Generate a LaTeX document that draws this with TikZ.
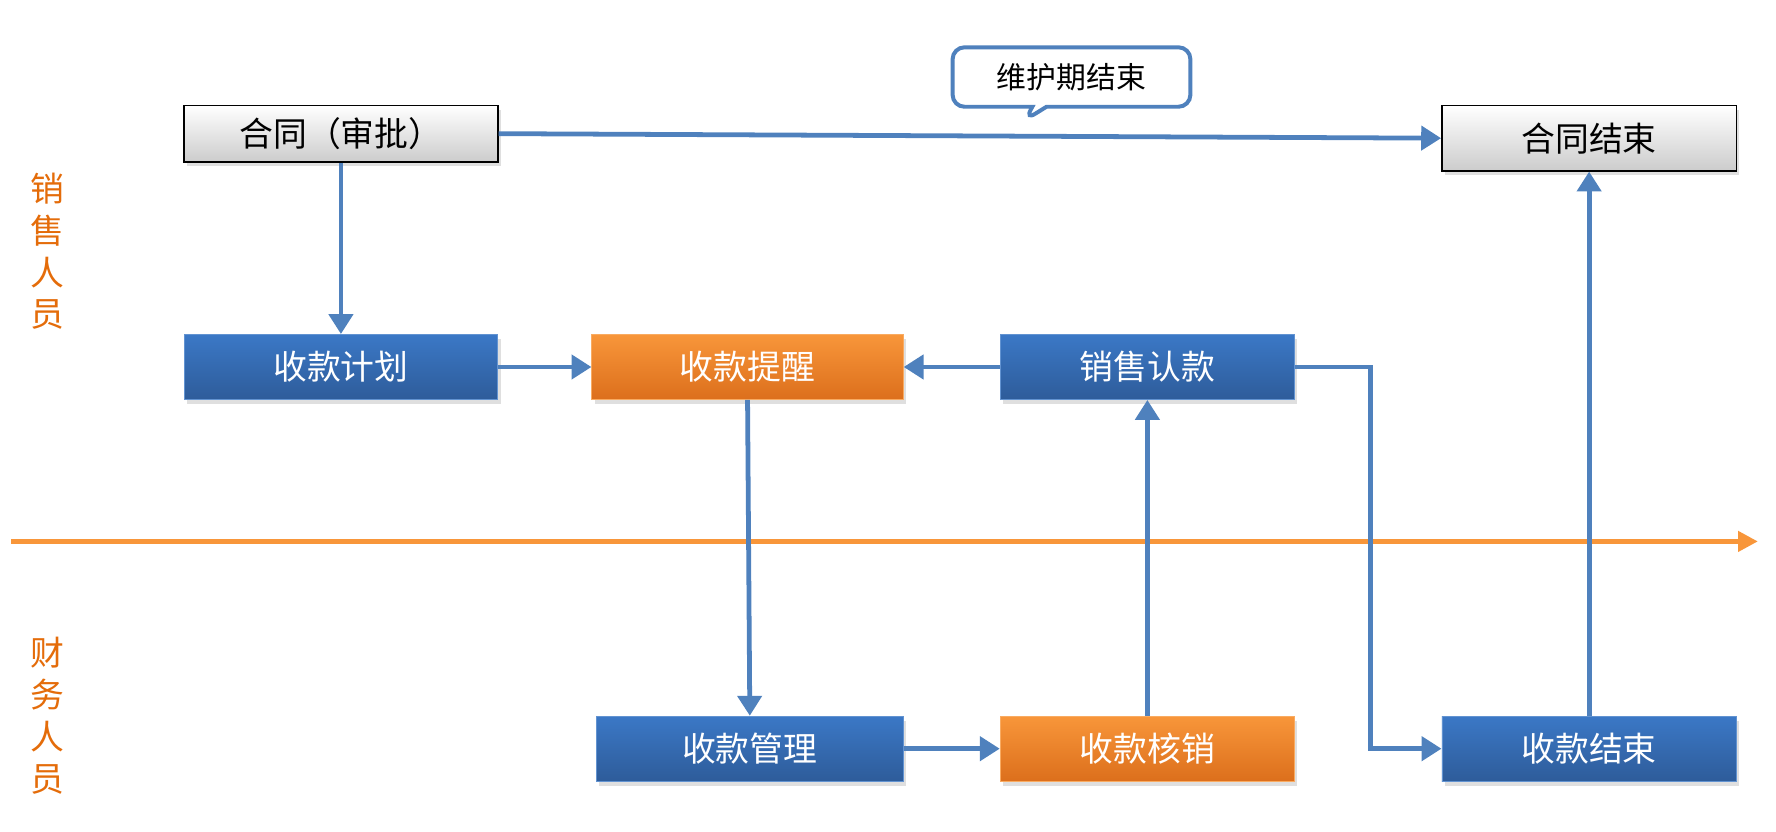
\documentclass[tikz,border=0pt]{standalone}
\usepackage{fontspec}
\setmainfont{Noto Sans CJK SC}
\usetikzlibrary{arrows.meta,shapes.callouts,shadows}
\definecolor{lineblue}{HTML}{4F81BD}
\definecolor{boxblue}{HTML}{3B78C6}
\definecolor{boxblued}{HTML}{2E5C9A}
\definecolor{boxor}{HTML}{F8963A}
\definecolor{boxord}{HTML}{DC6F1C}
\definecolor{laneor}{HTML}{E46C0A}
\tikzset{
  box/.style={minimum width=5.3cm, minimum height=1.15cm, inner sep=0pt,
    font=\fontsize{17}{17}\selectfont, drop shadow={opacity=0.25,shadow xshift=0.05cm,shadow yshift=-0.08cm}},
  bluebox/.style={box, draw=boxblue!80!white, top color=boxblue, bottom color=boxblued, text=white},
  orbox/.style={box, draw=boxor!80!white, top color=boxor, bottom color=boxord, text=white},
  greybox/.style={box, draw=black, line width=0.8pt, top color=white, bottom color=black!20, text=black},
  flow/.style={draw=lineblue, line width=2.4pt, -{Triangle[length=10pt,width=12pt]}},
  lane/.style={text=laneor, font=\fontsize{17}{21}\selectfont, align=center}
}
\begin{document}
\begin{tikzpicture}[x=0.02cm, y=-0.02cm]
\useasboundingbox (0,0) rectangle (1568,734);
% top row
\node[greybox, minimum width=5.54cm, minimum height=1cm] (contract) at (301,118) {合同（审批）};
\node[greybox, minimum width=5.2cm] (cend) at (1403,122) {合同结束};
\node[rectangle callout, rounded corners=6pt, draw=lineblue, line width=2pt, fill=white,
  minimum width=4.2cm, minimum height=1.05cm, font=\fontsize{15}{15}\selectfont,
  callout absolute pointer={(905,106)}] (maint) at (946,68) {维护期结束};
% sales lane
\node[bluebox, minimum width=5.54cm] (plan) at (301,324) {收款计划};
\node[orbox, minimum width=5.5cm] (remind) at (660,324) {收款提醒};
\node[bluebox, minimum width=5.2cm] (confirm) at (1013,324) {销售认款};
% finance lane
\node[bluebox, minimum width=5.42cm] (manage) at (662,661) {收款管理};
\node[orbox, minimum width=5.2cm] (verify) at (1013,661) {收款核销};
\node[bluebox, minimum width=5.2cm] (pend) at (1403,661) {收款结束};
% lanes
\coordinate (l0) at (10,478);
\coordinate (l1) at (1552,478);
\draw[draw=boxor, line width=2.4pt, -{Triangle[length=10pt,width=10pt]}] (l0) -- (l1);
\node[lane] (sales) at (42,222) {销\\售\\人\\员};
\node[lane] (fin) at (42,632) {财\\务\\人\\员};
% flows
\draw[flow] (contract.east) -- (cend.west);
\draw[flow] (contract.south) -- (plan.north);
\draw[flow] (plan) -- (remind);
\draw[flow] (confirm) -- (remind);
\draw[flow] (remind.south) -- (manage.north);
\draw[flow] (manage) -- (verify);
\draw[flow] (verify.north) -- (confirm.south);
\draw[flow] (confirm.east) -| (1210,500) |- (pend.west);
\draw[flow] (pend.north) -- (cend.south);
\end{tikzpicture}
\end{document}
